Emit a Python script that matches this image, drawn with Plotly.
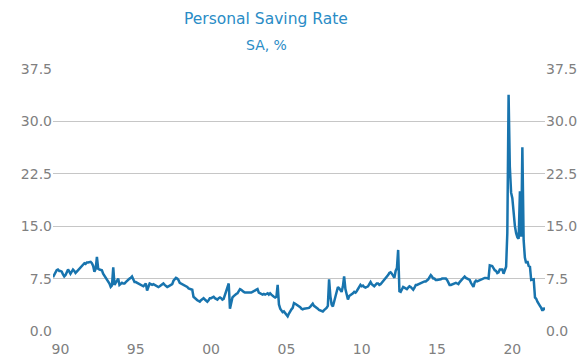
import plotly.graph_objects as go
import pandas as pd

# Monthly personal saving rate (SA, %), Jan 1990 - Sep 2022
y1990 = [7.7, 8.1, 8.4, 8.7, 8.8, 8.6, 8.6, 8.5, 8.1, 7.8, 8.0, 8.3]
y1991 = [8.8, 8.5, 8.2, 8.5, 8.8, 8.6, 8.3, 8.5, 8.7, 9.0, 9.2, 9.4]
y1992 = [9.5, 9.7, 9.6, 9.8, 9.8, 9.9, 9.9, 9.7, 9.3, 8.5, 8.9, 10.6]
y1993 = [8.9, 8.8, 8.8, 8.7, 8.2, 7.9, 7.6, 7.4, 7.0, 6.8, 6.3, 6.5]
y1994 = [9.1, 6.6, 6.9, 7.2, 7.5, 6.6, 6.8, 6.9, 6.8, 6.8, 7.0, 7.2]
y1995 = [7.3, 7.5, 7.6, 7.8, 7.4, 7.0, 7.0, 6.9, 6.9, 6.8, 6.7, 6.6]
y1996 = [6.4, 6.6, 6.8, 5.8, 6.5, 6.8, 6.7, 6.6, 6.7, 6.6, 6.5, 6.4]
y1997 = [6.3, 6.4, 6.5, 6.7, 6.8, 6.6, 6.5, 6.3, 6.4, 6.5, 6.6, 6.7]
y1998 = [7.2, 7.5, 7.6, 7.5, 7.3, 6.9, 6.8, 6.8, 6.7, 6.6, 6.5, 6.3]
y1999 = [6.1, 6.0, 6.0, 5.9, 4.9, 4.7, 4.5, 4.4, 4.3, 4.2, 4.4, 4.6]
y2000 = [4.7, 4.5, 4.3, 4.2, 4.4, 4.7, 4.7, 4.8, 4.9, 4.7, 4.6, 4.5]
y2001 = [4.7, 4.8, 4.7, 4.5, 4.6, 5.2, 5.9, 6.3, 6.8, 3.2, 4.0, 4.8]
y2002 = [5.0, 5.2, 5.3, 5.4, 5.8, 6.0, 5.9, 5.7, 5.6, 5.5, 5.5, 5.4]
y2003 = [5.4, 5.5, 5.5, 5.6, 5.7, 5.8, 5.9, 6.0, 5.5, 5.4, 5.3, 5.2]
y2004 = [5.3, 5.2, 5.3, 5.4, 5.2, 5.4, 5.2, 5.0, 4.9, 4.8, 4.9, 6.6]
y2005 = [3.8, 3.2, 3.0, 2.7, 2.8, 2.6, 2.4, 2.1, 2.5, 2.9, 3.1, 3.3]
y2006 = [4.0, 3.9, 3.8, 3.7, 3.5, 3.4, 3.2, 3.1, 3.2, 3.2, 3.3, 3.3]
y2007 = [3.3, 3.5, 3.7, 3.9, 3.6, 3.5, 3.4, 3.2, 3.0, 2.9, 2.8, 2.8]
y2008 = [3.0, 3.1, 3.3, 3.6, 7.4, 5.0, 3.8, 3.5, 4.2, 5.0, 5.9, 6.3]
y2009 = [6.1, 5.8, 5.6, 6.4, 7.8, 6.0, 5.2, 4.5, 5.0, 5.1, 5.3, 5.4]
y2010 = [5.6, 5.5, 5.7, 6.0, 6.3, 6.6, 6.4, 6.5, 6.3, 6.2, 6.3, 6.4]
y2011 = [6.7, 7.0, 6.7, 6.5, 6.4, 6.6, 6.8, 6.8, 6.6, 6.7, 6.9, 7.1]
y2012 = [7.3, 7.6, 7.7, 8.0, 8.3, 8.4, 8.2, 7.9, 7.6, 8.6, 9.0, 11.6]
y2013 = [5.7, 5.6, 5.9, 6.3, 6.2, 6.1, 6.0, 6.2, 6.4, 6.3, 6.1, 5.9]
y2014 = [6.2, 6.6, 6.6, 6.7, 6.8, 6.9, 6.9, 7.0, 7.1, 7.1, 7.2, 7.4]
y2015 = [7.7, 8.0, 7.8, 7.5, 7.5, 7.3, 7.3, 7.3, 7.4, 7.4, 7.5, 7.5]
y2016 = [7.6, 7.5, 7.3, 7.0, 6.6, 6.6, 6.7, 6.7, 6.8, 6.9, 6.8, 6.7]
y2017 = [7.0, 7.2, 7.4, 7.6, 7.8, 7.6, 7.5, 7.4, 7.3, 6.9, 6.5, 6.3]
y2018 = [7.0, 7.2, 7.1, 7.2, 7.3, 7.4, 7.4, 7.5, 7.6, 7.6, 7.5, 7.5]
y2019 = [9.4, 9.4, 9.3, 9.0, 8.7, 8.6, 8.3, 8.4, 8.8, 8.8, 8.8, 8.2]
y2020 = [8.8, 9.2, 14.0, 33.8, 23.5, 19.8, 19.0, 16.5, 15.0, 14.0, 13.4, 13.2]
y2021 = [20.0, 13.5, 26.3, 13.0, 10.5, 9.7, 10.0, 9.3, 9.2, 7.3, 7.3, 7.4]
y2022 = [4.8, 4.6, 4.2, 3.8, 3.6, 3.3, 2.9, 3.3, 3.0]

years = [y1990, y1991, y1992, y1993, y1994, y1995, y1996, y1997, y1998, y1999,
         y2000, y2001, y2002, y2003, y2004, y2005, y2006, y2007, y2008, y2009,
         y2010, y2011, y2012, y2013, y2014, y2015, y2016, y2017, y2018, y2019,
         y2020, y2021, y2022]
values = [v for yr in years for v in yr]
dates = pd.date_range("1990-01-01", periods=len(values), freq="MS")

tick_years = [1990, 1995, 2000, 2005, 2010, 2015, 2020]
tick_text = ["90", "95", "00", "05", "10", "15", "20"]
tick_dates = [f"{y}-07-01" for y in tick_years]
y_ticks = [0, 7.5, 15, 22.5, 30, 37.5]

line_color = "#1874ae"
title_color = "#2a8cc6"
tick_color = "#808080"
font_family = "DejaVu Sans"

fig = go.Figure()
fig.add_trace(go.Scatter(x=dates, y=values, mode="lines",
                         line=dict(color=line_color, width=2.5),
                         showlegend=False))
fig.add_trace(go.Scatter(x=dates, y=values, mode="lines", yaxis="y2",
                         line=dict(color="rgba(0,0,0,0)", width=0),
                         hoverinfo="skip", showlegend=False))

fig.update_layout(
    width=586, height=361,
    margin=dict(l=53, r=41, t=69, b=30, autoexpand=False),
    paper_bgcolor="white", plot_bgcolor="white",
    font=dict(family=font_family, color=tick_color, size=14),
    xaxis=dict(range=[dates[0], dates[-1]], tickvals=tick_dates, ticktext=tick_text,
               showgrid=False, zeroline=False, showline=False, automargin=False,
               ticks="outside", ticklen=5, tickcolor="rgba(0,0,0,0)",
               tickfont=dict(size=14, color=tick_color)),
    yaxis=dict(range=[0, 37.5], tickvals=y_ticks, tickformat=".1f",
               showgrid=True, gridcolor="#c6c6c6", gridwidth=1, automargin=False,
               zeroline=False, showline=False, ticks="",
               tickfont=dict(size=14, color=tick_color)),
    yaxis2=dict(range=[0, 37.5], tickvals=y_ticks, tickformat=".1f",
                overlaying="y", side="right", showgrid=False, automargin=False,
                zeroline=False, showline=False, ticks="",
                tickfont=dict(size=14, color=tick_color)),
    annotations=[
        dict(text="Personal Saving Rate", xref="paper", yref="paper",
             x=0.433, y=1.19, xanchor="center", yanchor="middle", showarrow=False,
             font=dict(size=15.5, color=title_color, family=font_family)),
        dict(text="SA, %", xref="paper", yref="paper",
             x=0.433, y=1.09, xanchor="center", yanchor="middle", showarrow=False,
             font=dict(size=14, color=title_color, family=font_family)),
    ],
)

fig.write_html("out.html", config={"displayModeBar": False},
               post_script="document.body.style.margin='0';document.body.style.overflow='hidden';")
